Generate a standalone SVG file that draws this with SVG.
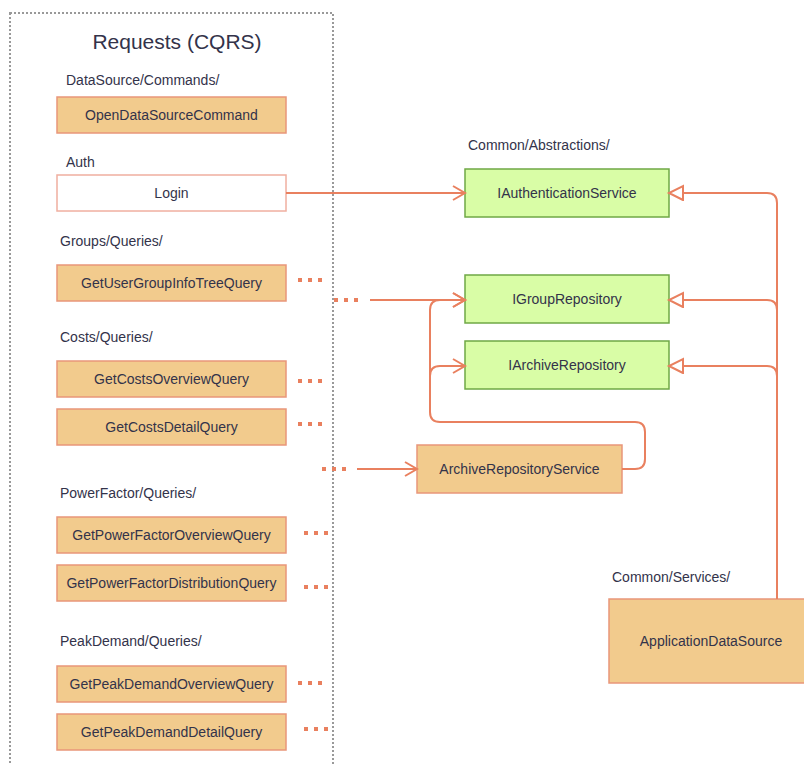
<svg xmlns="http://www.w3.org/2000/svg" width="804" height="765" viewBox="0 0 804 765">
<style>
text{font-family:"Liberation Sans",Arial,sans-serif;font-size:14px;fill:#33334a}
.c{text-anchor:middle}
.org{fill:#F2CB8D;stroke:#E9967A;stroke-width:1.5}
.wht{fill:#ffffff;stroke:#F0AFA0;stroke-width:1.5}
.grn{fill:#D9FDA6;stroke:#6FA845;stroke-width:1.5}
.ln{fill:none;stroke:#E9805F;stroke-width:2}
.dots{fill:none;stroke:#E9805F;stroke-width:4;stroke-dasharray:4 6}
.open{marker-end:url(#openArrow)}
.tri{marker-end:url(#hollowTri)}
</style>
<defs>
<marker id="openArrow" markerUnits="userSpaceOnUse" markerWidth="16" markerHeight="18" refX="13" refY="8" orient="auto">
<path d="M1,1 L13,8 L1,15" fill="none" stroke="#E9805F" stroke-width="2"/>
</marker>
<marker id="hollowTri" markerUnits="userSpaceOnUse" markerWidth="18" markerHeight="18" refX="15" refY="8" orient="auto">
<path d="M1,1 L15,8 L1,15 Z" fill="#ffffff" stroke="#E9805F" stroke-width="2"/>
</marker>
</defs>
<rect x="0" y="0" width="804" height="765" fill="#ffffff"/>
<g id="requests-container">
<rect x="10" y="13" width="323" height="770" fill="none" stroke="#999999" stroke-width="2" stroke-dasharray="2 2"/>
<text class="c" x="177" y="49" style="font-size:21px">Requests (CQRS)</text>
<text x="66" y="85">DataSource/Commands/</text>
<text x="66" y="167">Auth</text>
<text x="60" y="246">Groups/Queries/</text>
<text x="60" y="342">Costs/Queries/</text>
<text x="60" y="498">PowerFactor/Queries/</text>
<text x="60" y="646">PeakDemand/Queries/</text>
</g>
<g id="n-OpenDataSourceCommand"><rect class="org" x="57" y="97" width="229" height="36"/><text class="c" x="171.5" y="120">OpenDataSourceCommand</text></g>
<g id="n-Login"><rect class="wht" x="57" y="175" width="229" height="36"/><text class="c" x="171.5" y="198">Login</text></g>
<g id="n-GetUserGroupInfoTreeQuery"><rect class="org" x="57" y="265" width="229" height="36"/><text class="c" x="171.5" y="288">GetUserGroupInfoTreeQuery</text></g>
<g id="n-GetCostsOverviewQuery"><rect class="org" x="57" y="361" width="229" height="36"/><text class="c" x="171.5" y="384">GetCostsOverviewQuery</text></g>
<g id="n-GetCostsDetailQuery"><rect class="org" x="57" y="409" width="229" height="36"/><text class="c" x="171.5" y="432">GetCostsDetailQuery</text></g>
<g id="n-GetPowerFactorOverviewQuery"><rect class="org" x="57" y="517" width="229" height="36"/><text class="c" x="171.5" y="540">GetPowerFactorOverviewQuery</text></g>
<g id="n-GetPowerFactorDistributionQuery"><rect class="org" x="57" y="565" width="229" height="36"/><text class="c" x="171.5" y="588">GetPowerFactorDistributionQuery</text></g>
<g id="n-GetPeakDemandOverviewQuery"><rect class="org" x="57" y="666" width="229" height="36"/><text class="c" x="171.5" y="689">GetPeakDemandOverviewQuery</text></g>
<g id="n-GetPeakDemandDetailQuery"><rect class="org" x="57" y="714" width="229" height="36"/><text class="c" x="171.5" y="737">GetPeakDemandDetailQuery</text></g>
<g id="abstractions-label"><text x="468" y="150">Common/Abstractions/</text></g>
<g id="n-IAuthenticationService"><rect class="grn" x="465" y="169" width="204" height="48"/><text class="c" x="567" y="198">IAuthenticationService</text></g>
<g id="n-IGroupRepository"><rect class="grn" x="465" y="275" width="204" height="48"/><text class="c" x="567" y="304">IGroupRepository</text></g>
<g id="n-IArchiveRepository"><rect class="grn" x="465" y="341" width="204" height="48"/><text class="c" x="567" y="370">IArchiveRepository</text></g>
<g id="n-ArchiveRepositoryService"><rect class="org" x="417" y="445" width="205" height="48"/><text class="c" x="519.5" y="474">ArchiveRepositoryService</text></g>
<g id="services-label"><text x="612" y="582">Common/Services/</text></g>
<g id="n-ApplicationDataSource"><rect class="org" x="609" y="599" width="205" height="84"/><text class="c" x="711" y="646">ApplicationDataSource</text></g>
<g id="connectors">
<path class="ln open" d="M286,193 L465,193"/>
<path class="dots" d="M298,280 L322,280"/>
<path class="dots" d="M298,381 L322,381"/>
<path class="dots" d="M298,424 L322,424"/>
<path class="dots" d="M304,533 L328,533"/>
<path class="dots" d="M304,587 L328,587"/>
<path class="dots" d="M298,683 L322,683"/>
<path class="dots" d="M304,729 L328,729"/>
<path class="dots" d="M334,300 L358,300"/>
<path class="ln open" d="M370,300 L465,300"/>
<path class="dots" d="M322,469 L346,469"/>
<path class="ln open" d="M357,469 L417,469"/>
<path class="ln open" d="M622,469 L635,469 Q645,469 645,459 L645,432 Q645,422 635,422 L440,422 Q430,422 430,412 L430,310 Q430,300 440,300 L465,300"/>
<path class="ln open" d="M430,376 Q430,366 440,366 L465,366"/>
<path class="ln tri" d="M777,599 L777,203 Q777,193 767,193 L669,193"/>
<path class="ln tri" d="M777,310 Q777,300 767,300 L669,300"/>
<path class="ln tri" d="M777,376 Q777,366 767,366 L669,366"/>
</g>
</svg>
